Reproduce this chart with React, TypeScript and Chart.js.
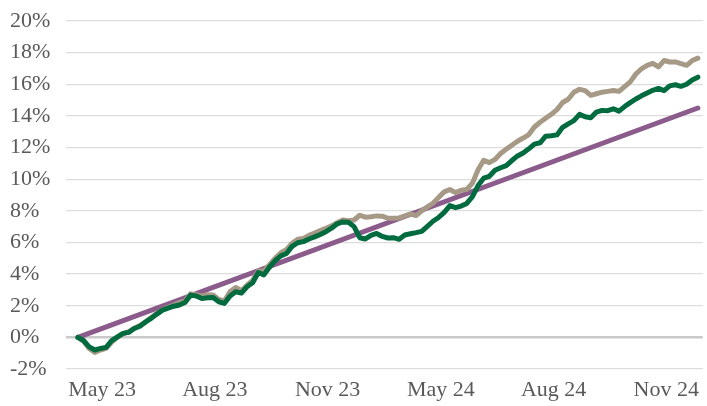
import React, { useEffect, useRef } from "react";
import { Chart, registerables } from "chart.js";

Chart.register(...registerables);

// x positions are sample indices (0..110); tick labels placed at these index positions
const xTickPositions = [4.3, 24.3, 44.3, 64.4, 84.4, 104.4];
const xTickLabels = ["May 23", "Aug 23", "Nov 23", "May 24", "Aug 24", "Nov 24"];

const yTickValues = [-2, 0, 2, 4, 6, 8, 10, 12, 14, 16, 18, 20];

// Dark green series (%)
const greenSeries = [
  0.0, -0.2, -0.6, -0.8, -0.7, -0.63, -0.2, 0.03, 0.25, 0.32,
  0.56, 0.7, 0.97, 1.2, 1.47, 1.72, 1.85, 1.97, 2.05, 2.2,
  2.67, 2.62, 2.45, 2.5, 2.52, 2.25, 2.15, 2.62, 2.88, 2.8,
  3.2, 3.45, 4.1, 3.95, 4.45, 4.85, 5.15, 5.3, 5.75, 5.98,
  6.05, 6.22, 6.35, 6.5, 6.68, 6.9, 7.18, 7.3, 7.28, 7.0,
  6.3, 6.22, 6.45, 6.57, 6.38, 6.28, 6.3, 6.2, 6.47, 6.55,
  6.62, 6.7, 7.02, 7.34, 7.58, 7.9, 8.33, 8.2, 8.3, 8.47,
  8.9, 9.6, 10.06, 10.18, 10.56, 10.72, 10.86, 11.18, 11.47, 11.66,
  11.92, 12.22, 12.3, 12.72, 12.75, 12.8, 13.28, 13.5, 13.7, 14.1,
  13.95, 13.88, 14.24, 14.35, 14.33, 14.45, 14.3, 14.59, 14.84, 15.07,
  15.27, 15.45, 15.62, 15.74, 15.6, 15.9, 15.97, 15.87, 16.0, 16.27,
  16.45,
];

// Taupe series (%)
const tanSeries = [
  0.0, -0.25, -0.7, -0.95, -0.8, -0.7, -0.3, 0.0, 0.22, 0.35,
  0.58, 0.75, 0.98, 1.25, 1.5, 1.75, 1.9, 2.05, 2.2, 2.3,
  2.75, 2.7, 2.6, 2.7, 2.68, 2.4, 2.3, 2.9, 3.15, 2.95,
  3.3, 3.6, 4.2, 4.2, 4.6, 5.0, 5.35, 5.55, 5.95, 6.2,
  6.25, 6.45, 6.6, 6.75, 6.9, 7.05, 7.25, 7.42, 7.38, 7.42,
  7.72, 7.6, 7.62, 7.68, 7.66, 7.53, 7.53, 7.55, 7.68, 7.8,
  7.7, 8.0, 8.25, 8.48, 8.85, 9.2, 9.35, 9.15, 9.3, 9.35,
  9.75, 10.6, 11.2, 11.05, 11.25, 11.62, 11.9, 12.15, 12.4, 12.6,
  12.82, 13.3, 13.6, 13.85, 14.1, 14.4, 14.85, 15.05, 15.5, 15.68,
  15.6, 15.3, 15.4, 15.5, 15.55, 15.6, 15.55, 15.85, 16.15, 16.65,
  16.98, 17.2, 17.32, 17.1, 17.5, 17.41, 17.41, 17.3, 17.2, 17.5,
  17.65,
];

// Purple straight benchmark line: start and end
const purpleX = [0, 110];
const purpleSeries = [0.0, 14.5];

export default function App() {
  const canvasRef = useRef<HTMLCanvasElement | null>(null);

  useEffect(() => {
    document.body.style.margin = "0";
    const canvas = canvasRef.current;
    if (!canvas) return;
    const font = { family: "'Liberation Serif', 'Times New Roman', serif", size: 22 };
    const chart = new Chart(canvas, {
      type: "line",
      data: {
        datasets: [
          {
            label: "Green",
            data: greenSeries.map((v, i) => ({ x: i, y: v })),
            borderColor: "#006B3F",
            borderWidth: 5,
          },
          {
            label: "Tan",
            data: tanSeries.map((v, i) => ({ x: i, y: v })),
            borderColor: "#A69985",
            borderWidth: 5,
          },
          {
            label: "Purple",
            data: purpleSeries.map((v, i) => ({ x: purpleX[i], y: v })),
            borderColor: "#8B5B8C",
            borderWidth: 5,
          },
        ],
      },
      options: {
        animation: false,
        responsive: true,
        maintainAspectRatio: false,
        layout: { padding: { top: 21, left: 10, right: 0, bottom: 0 } },
        elements: {
          point: { radius: 0 },
          line: { tension: 0, borderJoinStyle: "round", borderCapStyle: "round" },
        },
        plugins: {
          legend: { display: false },
          tooltip: { enabled: false },
        },
        scales: {
          x: {
            type: "linear",
            min: -2.115,
            max: 110.88,
            grid: { display: false, drawTicks: false },
            border: { display: false },
            afterBuildTicks: (scale: any) => {
              scale.ticks = xTickPositions.map((v) => ({ value: v }));
            },
            afterFit: (scale: any) => {
              scale.height = 37;
            },
            ticks: {
              autoSkip: false,
              maxRotation: 0,
              padding: 8,
              color: "#595959",
              font,
              callback: (_v: any, i: number) => xTickLabels[i],
            },
          },
          y: {
            type: "linear",
            min: -2,
            max: 20,
            afterBuildTicks: (scale: any) => {
              scale.ticks = yTickValues.map((v) => ({ value: v }));
            },
            afterFit: (scale: any) => {
              scale.width = 56;
            },
            border: { display: false },
            grid: {
              drawTicks: false,
              color: (ctx: any) => (ctx.tick && ctx.tick.value === 0 ? "#c9c9c9" : "#dddddd"),
              lineWidth: (ctx: any) => (ctx.tick && ctx.tick.value === 0 ? 2.5 : 1.3),
            },
            ticks: {
              crossAlign: "far",
              padding: 0,
              color: "#595959",
              font,
              callback: (v: any) => `${v}%`,
            },
          },
        },
      },
    });
    return () => chart.destroy();
  }, []);

  return (
    <div style={{ width: 707, height: 406, position: "relative" }}>
      <canvas ref={canvasRef} />
    </div>
  );
}
